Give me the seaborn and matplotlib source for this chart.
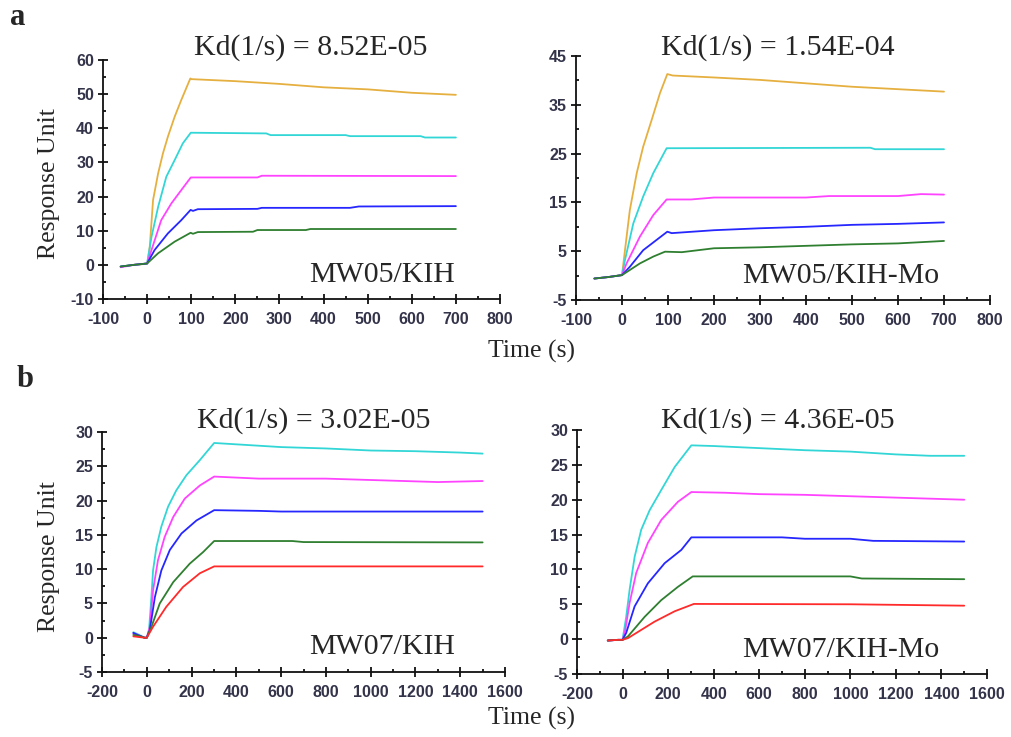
import matplotlib
matplotlib.use("Agg")
import matplotlib.pyplot as plt
from matplotlib.ticker import MultipleLocator, FixedLocator
import seaborn as sns
import pandas as pd

# ---------------- data ----------------
CURVE_NAMES = ["orange", "cyan", "magenta", "blue", "green", "red"]
COLORS = {"orange": "#E6B040", "cyan": "#33D6D6", "magenta": "#FF44FF",
          "blue": "#2626FF", "green": "#2F7F30", "red": "#FF2A2A"}

TITLES = ["Kd(1/s) = 8.52E-05", "Kd(1/s) = 1.54E-04",
          "Kd(1/s) = 3.02E-05", "Kd(1/s) = 4.36E-05"]
SAMPLES = ["MW05/KIH", "MW05/KIH-Mo", "MW07/KIH", "MW07/KIH-Mo"]

# Panel a, left: MW05/KIH
A1_ORANGE_T = [-60, -30, 0, 1, 6, 13.5, 25, 36, 47, 62.5, 77.5, 98, 100, 150, 200, 300, 400, 500, 600, 700]
A1_ORANGE_V = [-0.5, 0.0, 0.3, 0.9, 5.3, 19.0, 26.8, 32.7, 37.5, 43.4, 48.3, 54.6, 54.4, 54.1, 53.8, 53.0, 52.0, 51.4, 50.4, 49.8]
A1_CYAN_T = [-60, -30, 0, 10, 25, 43.5, 62.5, 81, 99, 270, 280, 450, 460, 620, 630, 700]
A1_CYAN_V = [-0.5, 0.0, 0.4, 8.2, 17.0, 25.8, 30.7, 35.6, 38.7, 38.5, 38.0, 38.0, 37.7, 37.7, 37.3, 37.3]
A1_MAGENTA_T = [-60, -30, 0, 10, 32, 55, 77.5, 99, 250, 260, 700]
A1_MAGENTA_V = [-0.7, 0.0, 0.4, 4.35, 13.1, 18.0, 21.9, 25.6, 25.6, 26.1, 26.0]
A1_BLUE_T = [-60, -30, 0, 17, 47, 77.5, 98.6, 104, 115, 250, 260, 460, 480, 700]
A1_BLUE_V = [-0.5, 0.0, 0.4, 4.35, 9.2, 13.1, 16.1, 15.8, 16.3, 16.4, 16.7, 16.7, 17.1, 17.2]
A1_GREEN_T = [-60, -30, 0, 25, 62.5, 98.6, 104, 115, 240, 250, 360, 370, 700]
A1_GREEN_V = [-0.5, 0.0, 0.4, 3.4, 6.8, 9.4, 9.1, 9.6, 9.7, 10.2, 10.2, 10.5, 10.5]

# Panel a, right: MW05/KIH-Mo
A2_ORANGE_T = [-60, -30, 0, 6.5, 17, 32, 46, 64.5, 82.6, 98.5, 110, 200, 300, 400, 500, 600, 700]
A2_ORANGE_V = [-0.6, -0.3, 0.1, 5.25, 13.4, 21.0, 26.4, 31.9, 37.4, 41.3, 41.0, 40.6, 40.1, 39.4, 38.7, 38.2, 37.7]
A2_CYAN_T = [-60, -30, 0, 6.5, 24.6, 46, 68, 97, 540, 550, 700]
A2_CYAN_V = [-0.6, -0.3, 0.1, 3.2, 10.7, 16.2, 21.0, 26.1, 26.2, 25.9, 25.9]
A2_MAGENTA_T = [-60, -30, 0, 10, 39, 68, 97, 150, 200, 400, 450, 600, 650, 700]
A2_MAGENTA_V = [-0.6, -0.3, 0.1, 2.5, 8.0, 12.4, 15.6, 15.6, 16.0, 16.0, 16.3, 16.3, 16.7, 16.6]
A2_BLUE_T = [-60, -30, 0, 17, 46, 75, 98.5, 108, 200, 300, 400, 500, 600, 700]
A2_BLUE_V = [-0.6, -0.3, 0.1, 1.8, 5.2, 7.3, 9.0, 8.7, 9.3, 9.7, 10.0, 10.4, 10.6, 10.9]
A2_GREEN_T = [-60, -30, 0, 39, 68, 93.5, 130, 200, 300, 400, 500, 600, 700]
A2_GREEN_V = [-0.6, -0.3, 0.1, 2.5, 3.9, 4.9, 4.8, 5.6, 5.8, 6.1, 6.4, 6.6, 7.1]

# Panel b, left: MW07/KIH
B1_CYAN_T = [-60, -40, -10, 0, 10, 20.6, 28, 43, 65, 95, 132, 177, 237, 301, 400, 600, 800, 1000, 1200, 1400, 1500]
B1_CYAN_V = [0.8, 0.5, 0.0, 0.0, 1.1, 5.9, 9.8, 13.2, 16.2, 19.1, 21.5, 23.7, 25.9, 28.4, 28.2, 27.8, 27.6, 27.3, 27.2, 27.0, 26.85]
B1_MAGENTA_T = [-60, -40, -10, 0, 13.4, 28, 50, 80, 118, 170, 237, 301, 500, 800, 1000, 1300, 1500]
B1_MAGENTA_V = [0.6, 0.4, 0.0, 0.0, 1.6, 6.9, 11.3, 14.7, 17.6, 20.3, 22.2, 23.5, 23.2, 23.2, 23.0, 22.7, 22.85]
B1_BLUE_T = [-60, -40, -10, 0, 13.4, 36, 65, 103, 155, 222, 301, 500, 600, 1500]
B1_BLUE_V = [0.7, 0.4, 0.0, 0.0, 1.1, 5.9, 9.8, 12.8, 15.2, 17.1, 18.6, 18.5, 18.4, 18.4]
B1_GREEN_T = [-60, -40, -10, 0, 21, 58, 118, 192, 252, 301, 650, 700, 1500]
B1_GREEN_V = [0.4, 0.3, 0.0, 0.0, 1.6, 5.0, 8.1, 10.8, 12.5, 14.1, 14.1, 13.95, 13.9]
B1_RED_T = [-60, -10, 0, 28, 87, 162, 237, 301, 1500]
B1_RED_V = [0.2, 0.0, 0.0, 1.6, 4.5, 7.4, 9.4, 10.4, 10.4]

# Panel b, right: MW07/KIH-Mo
B2_CYAN_T = [-65, -20, 0, 16, 31, 53, 82, 119, 170, 229, 302, 400, 600, 800, 1000, 1200, 1350, 1500]
B2_CYAN_V = [-0.2, -0.1, -0.1, 3.2, 7.1, 11.8, 15.7, 18.5, 21.4, 24.7, 27.8, 27.7, 27.4, 27.1, 26.9, 26.5, 26.3, 26.3]
B2_MAGENTA_T = [-65, -20, 0, 12, 31, 60, 111, 170, 243, 302, 450, 600, 800, 1000, 1200, 1500]
B2_MAGENTA_V = [-0.2, -0.1, -0.1, 1.3, 5.2, 9.5, 13.8, 17.1, 19.7, 21.1, 21.0, 20.8, 20.7, 20.5, 20.3, 20.0]
B2_BLUE_T = [-65, -20, 0, 16, 53, 111, 185, 258, 302, 700, 800, 1000, 1100, 1500]
B2_BLUE_V = [-0.2, -0.1, -0.1, 0.9, 4.7, 8.0, 10.9, 12.8, 14.6, 14.6, 14.4, 14.4, 14.1, 14.0]
B2_GREEN_T = [-65, -20, 0, 24, 97, 170, 243, 308, 1000, 1050, 1500]
B2_GREEN_V = [-0.2, -0.1, -0.1, 0.4, 3.2, 5.6, 7.5, 9.0, 9.0, 8.7, 8.6]
B2_RED_T = [-65, -20, 0, 24, 140, 229, 313, 1000, 1500]
B2_RED_V = [-0.2, -0.1, -0.1, 0.15, 2.5, 4.0, 5.05, 5.0, 4.8]

PANELS = [
    {"orange": (A1_ORANGE_T, A1_ORANGE_V), "cyan": (A1_CYAN_T, A1_CYAN_V),
     "magenta": (A1_MAGENTA_T, A1_MAGENTA_V), "blue": (A1_BLUE_T, A1_BLUE_V),
     "green": (A1_GREEN_T, A1_GREEN_V)},
    {"orange": (A2_ORANGE_T, A2_ORANGE_V), "cyan": (A2_CYAN_T, A2_CYAN_V),
     "magenta": (A2_MAGENTA_T, A2_MAGENTA_V), "blue": (A2_BLUE_T, A2_BLUE_V),
     "green": (A2_GREEN_T, A2_GREEN_V)},
    {"cyan": (B1_CYAN_T, B1_CYAN_V), "magenta": (B1_MAGENTA_T, B1_MAGENTA_V),
     "blue": (B1_BLUE_T, B1_BLUE_V), "green": (B1_GREEN_T, B1_GREEN_V),
     "red": (B1_RED_T, B1_RED_V)},
    {"cyan": (B2_CYAN_T, B2_CYAN_V), "magenta": (B2_MAGENTA_T, B2_MAGENTA_V),
     "blue": (B2_BLUE_T, B2_BLUE_V), "green": (B2_GREEN_T, B2_GREEN_V),
     "red": (B2_RED_T, B2_RED_V)},
]

XLIMS = [(-100, 800), (-100, 800), (-200, 1600), (-200, 1600)]
XMAJOR = [100, 100, 200, 200]
YLIMS = [(-10, 60), (-5, 45), (-5, 30), (-5, 30)]
YTICKS = [[-10, 0, 10, 20, 30, 40, 50, 60], [-5, 5, 15, 25, 35, 45],
          [-5, 0, 5, 10, 15, 20, 25, 30], [-5, 0, 5, 10, 15, 20, 25, 30]]
YMINOR = [5, 5, 2.5, 2.5]

# ---------------- layout (pixels in a 1011 x 737 figure) ----------------
W, H = 1011, 737
RECTS = [(103, 500, 60, 299), (576, 990, 56, 300), (102, 505, 432, 672), (577, 987, 430, 674)]
TITLE_POS = [(311, 55), (778, 55), (314, 428), (778, 428)]
SAMPLE_POS = [(455, 282), (939, 283), (455, 654), (939, 657)]

sns.set_style("ticks")
plt.rcParams["font.family"] = ["Liberation Sans", "DejaVu Sans"]
plt.rcParams["axes.unicode_minus"] = False

fig = plt.figure(figsize=(W / 100, H / 100), dpi=100)
SERIF = ["Liberation Serif", "DejaVu Serif"]
TICK_COLOR = "#33334a"

for i, panel in enumerate(PANELS):
    l, r, t, b = RECTS[i]
    ax = fig.add_axes([l / W, 1 - b / H, (r - l) / W, (b - t) / H])
    rows = []
    for name in CURVE_NAMES:
        if name in panel:
            ts, vs = panel[name]
            for tt, vv in zip(ts, vs):
                rows.append({"t": tt, "v": vv, "curve": name})
    df = pd.DataFrame(rows)
    sns.lineplot(data=df, x="t", y="v", hue="curve", palette=COLORS,
                 sort=False, estimator=None, legend=False, ax=ax, linewidth=1.3)
    ax.set_xlim(*XLIMS[i])
    ax.set_ylim(*YLIMS[i])
    ax.xaxis.set_major_locator(MultipleLocator(XMAJOR[i]))
    ax.xaxis.set_minor_locator(MultipleLocator(XMAJOR[i] / 2))
    ax.yaxis.set_major_locator(FixedLocator(YTICKS[i]))
    ax.yaxis.set_minor_locator(MultipleLocator(YMINOR[i]))
    ax.set_xlabel("")
    ax.set_ylabel("")
    for side in ["top", "right"]:
        ax.spines[side].set_visible(False)
    for side in ["left", "bottom"]:
        ax.spines[side].set_linewidth(1.3)
        ax.spines[side].set_color("#111111")
    ax.tick_params(which="major", direction="inout", length=7, width=1.3,
                   color="#111111", labelsize=11.5, labelcolor=TICK_COLOR)
    ax.tick_params(axis="x", which="major", pad=6)
    ax.tick_params(axis="y", which="major", pad=3)
    ax.tick_params(which="minor", direction="in", length=2, width=1.3, color="#111111")
    for lab in ax.get_xticklabels() + ax.get_yticklabels():
        lab.set_fontweight("bold")
    ax.patch.set_alpha(0)

    fig.text(TITLE_POS[i][0] / W, 1 - TITLE_POS[i][1] / H, TITLES[i],
             ha="center", va="baseline", fontsize=21.5, family=SERIF)
    fig.text(SAMPLE_POS[i][0] / W, 1 - SAMPLE_POS[i][1] / H, SAMPLES[i],
             ha="right", va="baseline", fontsize=21.5, family=SERIF)

for yc in (184, 557):
    fig.text(49 / W, 1 - yc / H, "Response Unit", rotation=90, ha="center", va="center",
             fontsize=18.5, family=SERIF)
for yc in (351, 718):
    fig.text(531 / W, 1 - yc / H, "Time (s)", ha="center", va="center",
             fontsize=18.5, family=SERIF)

fig.text(10 / W, 1 - 25 / H, "a", ha="left", va="baseline", fontsize=22,
         fontweight="bold", family=SERIF)
fig.text(17 / W, 1 - 387 / H, "b", ha="left", va="baseline", fontsize=22,
         fontweight="bold", family=SERIF)

fig.savefig("out.png", dpi=100, facecolor="white")
